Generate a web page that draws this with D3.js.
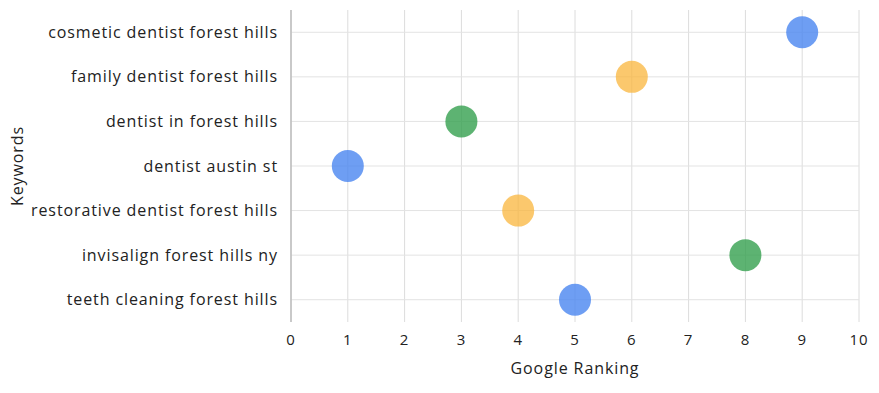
<!DOCTYPE html>
<html>
<head>
<meta charset="utf-8">
<script src="https://cdn.jsdelivr.net/npm/d3@7"></script>
<style>
  body { margin: 0; background: #fff; }
  text { font-family: "Open Sans", Lato, sans-serif; fill: #222; letter-spacing: 0.9px; }
</style>
</head>
<body>
<div id="chart"></div>
<script>
// keywords, top to bottom
var keywords = [
    "cosmetic dentist forest hills",
    "family dentist forest hills",
    "dentist in forest hills",
    "dentist austin st",
    "restorative dentist forest hills",
    "invisalign forest hills ny",
    "teeth cleaning forest hills"
];
// google ranking per keyword
var ranking = [9, 6, 3, 1, 4, 8, 5];
var xTicks = [0, 1, 2, 3, 4, 5, 6, 7, 8, 9, 10];
var colors = ["#4a86f0", "#f9b53c", "#34a04f"];

var width = 879;
var height = 393;
// note: "top" is taken by window.top, so plot edges get their own names
var plotLeft = 291, plotRight = 859, plotTop = 10, plotBottom = 322;

var svg = d3.select("#chart")
    .append("svg")
    .attr("width", width)
    .attr("height", height);

var scalex = d3.scaleLinear()
    .domain([0, 10])
    .range([plotLeft, plotRight]);

var scaley = d3.scaleBand()
    .domain(keywords)
    .range([plotTop, plotBottom]);

var cy = (d) => scaley(d) + scaley.bandwidth() / 2;

// grid
svg.append("g")
    .selectAll("line")
    .data(xTicks)
    .enter()
    .append("line")
    .attr("x1", (d) => scalex(d))
    .attr("x2", (d) => scalex(d))
    .attr("y1", plotTop)
    .attr("y2", plotBottom)
    .attr("stroke", "#dcdcdc")
    .attr("stroke-width", 1);

svg.append("g")
    .selectAll("line")
    .data(keywords)
    .enter()
    .append("line")
    .attr("x1", plotLeft)
    .attr("x2", plotRight)
    .attr("y1", cy)
    .attr("y2", cy)
    .attr("stroke", "#e3e3e3")
    .attr("stroke-width", 1);

// y axis line
svg.append("line")
    .attr("x1", plotLeft).attr("x2", plotLeft)
    .attr("y1", plotTop).attr("y2", plotBottom)
    .attr("stroke", "#bdbdbd")
    .attr("stroke-width", 1.5);

// bubbles
svg.append("g")
    .selectAll("circle")
    .data(keywords)
    .enter()
    .append("circle")
    .attr("cx", (d, i) => scalex(ranking[i]))
    .attr("cy", cy)
    .attr("r", 16)
    .attr("fill", (d, i) => colors[i % 3])
    .attr("fill-opacity", (d, i) => i % 3 == 1 ? 0.75 : 0.8);

// y labels
svg.append("g")
    .selectAll("text")
    .data(keywords)
    .enter()
    .append("text")
    .attr("x", plotLeft - 13)
    .attr("y", cy)
    .attr("dy", "0.35em")
    .attr("text-anchor", "end")
    .style("font-size", "16px")
    .text((d) => d);

// x labels
svg.append("g")
    .selectAll("text")
    .data(xTicks)
    .enter()
    .append("text")
    .attr("x", (d) => scalex(d))
    .attr("y", 345)
    .attr("text-anchor", "middle")
    .style("font-size", "15px")
    .text((d) => d);

svg.append("text")
    .attr("x", (plotLeft + plotRight) / 2)
    .attr("y", 374)
    .attr("text-anchor", "middle")
    .style("font-size", "16px")
    .text("Google Ranking");

svg.append("text")
    .attr("transform", "translate(23," + (plotTop + plotBottom) / 2 + ") rotate(-90)")
    .attr("text-anchor", "middle")
    .style("font-size", "16px")
    .text("Keywords");
</script>
</body>
</html>
